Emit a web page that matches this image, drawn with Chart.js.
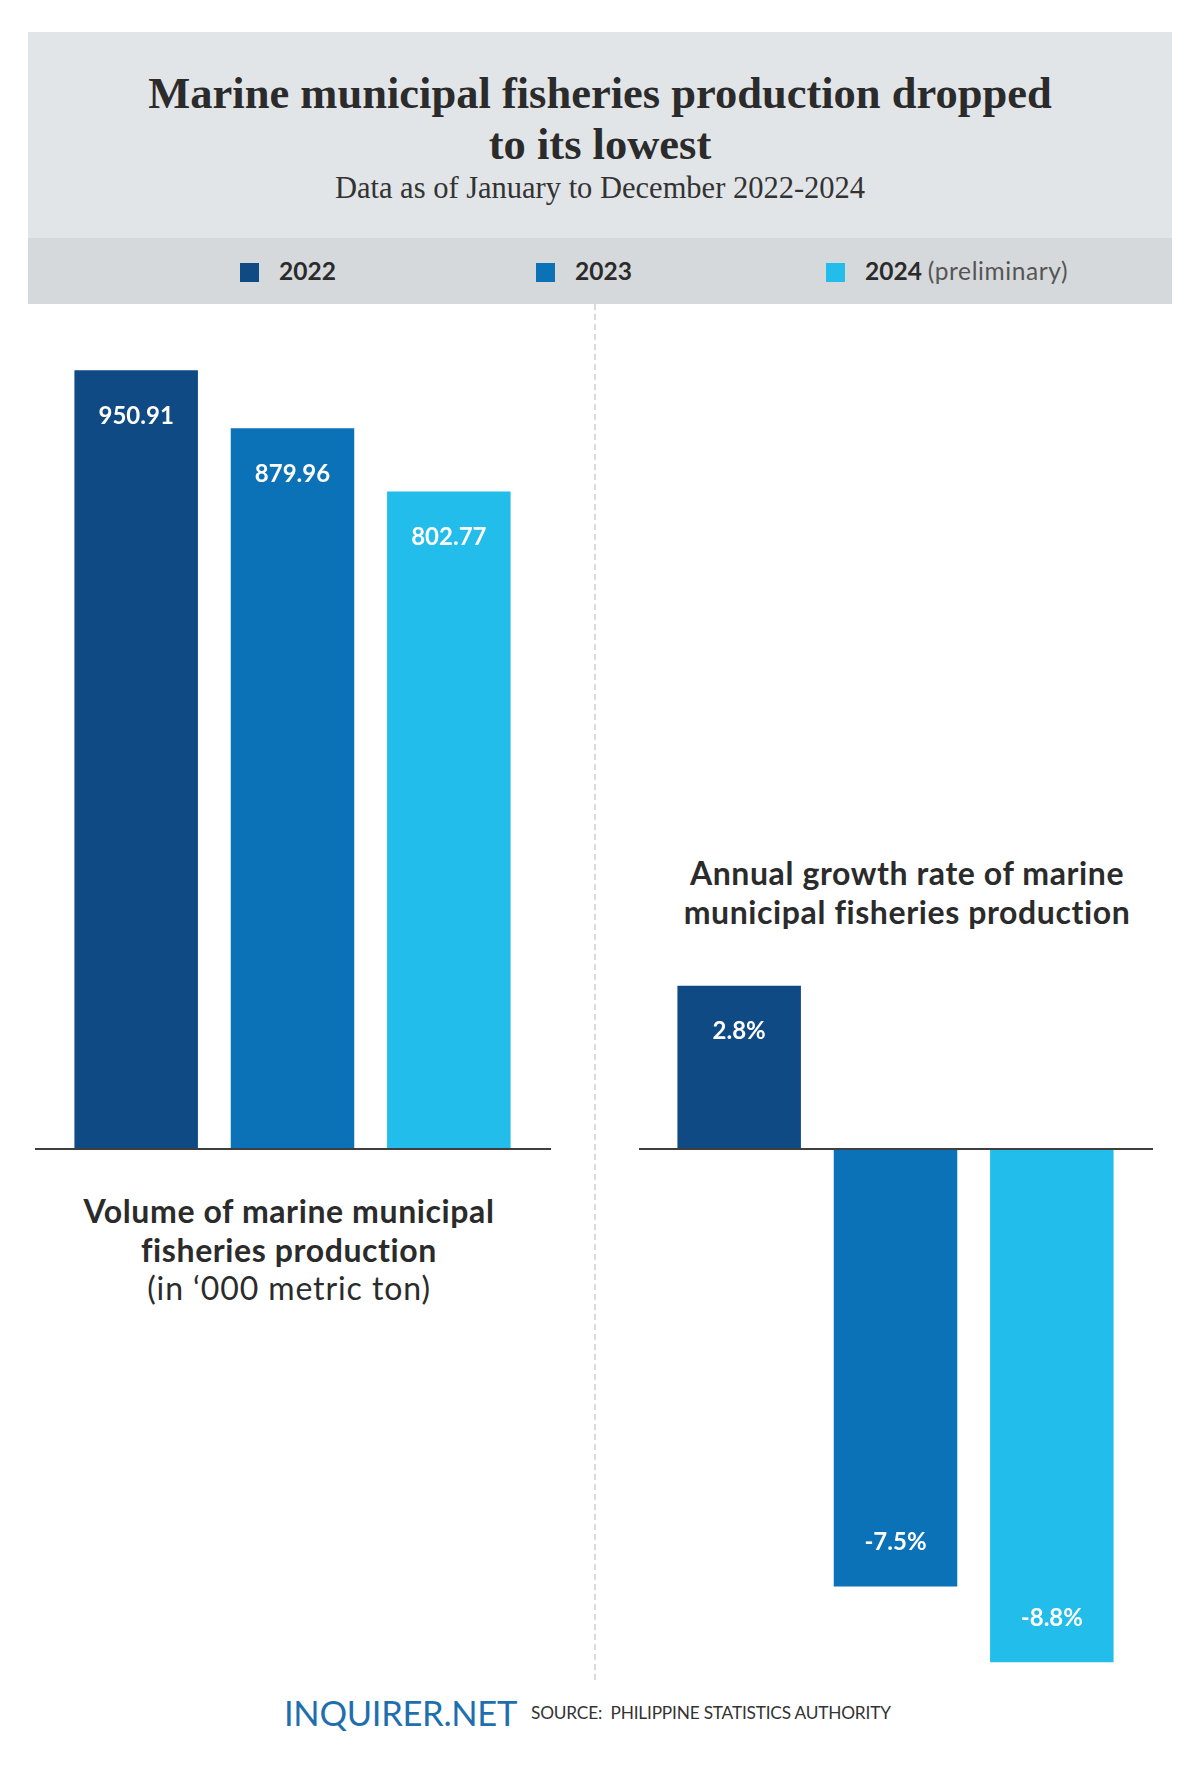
<!DOCTYPE html>
<html>
<head>
<meta charset="utf-8">
<script src="https://cdn.jsdelivr.net/npm/chart.js@4.4.1/dist/chart.umd.min.js"></script>
<style>
  body { margin:0; background:#fff; width:1200px; height:1778px; position:relative; overflow:hidden; font-family:Lato, sans-serif; color:#2b2b2b; }
  .abs { position:absolute; }
  #head { left:28px; top:32px; width:1144px; height:206px; background:#e2e5e8; }
  #legendband { left:28px; top:238px; width:1144px; height:66px; background:#d6d9db; }
  #title { left:0; width:1200px; top:68px; text-align:center; font-family:"Liberation Serif", serif; font-weight:bold; font-size:44.5px; line-height:51px; color:#2b2b2b; }
  #subtitle { left:0; width:1200px; top:171px; text-align:center; font-family:"Liberation Serif", serif; font-size:30.5px; line-height:34px; color:#333; }
  .lg { top:257px; height:28px; line-height:28px; font-size:24.5px; font-weight:bold; color:#2b2b2b; white-space:nowrap; }
  .lg i { display:inline-block; width:19px; height:19px; vertical-align:-2px; margin-right:20px; }
  .lg span { font-weight:normal; color:#555; letter-spacing:0.6px; }
  #divider { left:594px; top:304px; height:1376px; border-left:2px dashed #dadada; }
  .cap { text-align:center; font-size:32px; line-height:38.5px; font-weight:bold; color:#2b2b2b; letter-spacing:0.6px; white-space:nowrap; }
  .cap span { font-weight:normal; letter-spacing:0.9px; }
  canvas { position:absolute; }
  #brand { left:284px; top:1692px; font-size:34.5px; line-height:42px; color:#1f6fae; letter-spacing:-0.3px; }
  #source { left:531px; top:1702px; font-size:17.3px; line-height:22px; color:#333; letter-spacing:-0.2px; }
</style>
</head>
<body>
<div id="head" class="abs"></div>
<div id="legendband" class="abs"></div>
<div id="title" class="abs">Marine municipal fisheries production dropped<br>to its lowest</div>
<div id="subtitle" class="abs">Data as of January to December 2022-2024</div>
<div id="lg0" class="abs lg" style="left:240px"></div>
<div id="lg1" class="abs lg" style="left:536px"></div>
<div id="lg2" class="abs lg" style="left:826px"></div>
<div id="divider" class="abs"></div>

<div class="abs" style="left:35px;top:320px;width:516px;height:840px"><canvas id="volChart" width="516" height="840"></canvas></div>
<div class="abs" style="left:639px;top:964px;width:514px;height:720px"><canvas id="rateChart" width="514" height="720"></canvas></div>

<div class="abs cap" style="left:39px;width:500px;top:1192px">Volume of marine municipal<br>fisheries production<br><span>(in ‘000 metric ton)</span></div>
<div class="abs cap" style="left:657px;width:500px;top:854px">Annual growth rate of marine<br>municipal fisheries production</div>

<div id="brand" class="abs">INQUIRER.NET</div>
<div id="source" class="abs">SOURCE:&nbsp; PHILIPPINE STATISTICS AUTHORITY</div>

<script>
var years = ['2022', '2023', '2024'];
var yearNotes = ['', '', '(preliminary)'];
var volume = [950.91, 879.96, 802.77];
var volumeLabels = ['950.91', '879.96', '802.77'];
var growth = [2.8, -7.5, -8.8];
var growthLabels = ['2.8%', '-7.5%', '-8.8%'];
var colors = ['#0f4a84', '#0b72b7', '#22bdea'];

// legend (html)
years.forEach(function(y, i){
	var el = document.getElementById('lg' + i);
	el.innerHTML = '<i style="background:' + colors[i] + '"></i>' + y + (yearNotes[i] ? ' <span>' + yearNotes[i] + '</span>' : '');
});

// zero line across the whole canvas + value labels inside bars
var barDecor = {
	id: 'barDecor',
	afterDatasetsDraw: function(chart, args, opts){
		var ctx = chart.ctx;
		var y0 = chart.scales.y.getPixelForValue(0);
		ctx.save();
		ctx.strokeStyle = '#3f3f3f';
		ctx.lineWidth = 2;
		ctx.beginPath();
		ctx.moveTo(0, y0);
		ctx.lineTo(chart.width, y0);
		ctx.stroke();

		ctx.fillStyle = '#fff';
		ctx.font = 'bold 24px Lato';
		ctx.textAlign = 'center';
		ctx.textBaseline = 'middle';
		var meta = chart.getDatasetMeta(0);
		var vals = chart.data.datasets[0].data;
		meta.data.forEach(function(bar, i){
			var y = vals[i] >= 0 ? bar.y + 46 : bar.y - 44;
			ctx.fillText(opts.labels[i], bar.x, y);
		});
		ctx.restore();
	}
};

function makeBars(id, values, labels, min, max, pad){
	return new Chart(document.getElementById(id).getContext('2d'), {
		type: 'bar',
		data: {
			labels: years,
			datasets: [{
				data: values,
				backgroundColor: colors,
				borderWidth: 0,
				categoryPercentage: 1,
				barPercentage: 0.79
			}]
		},
		options: {
			responsive: false,
			animation: false,
			layout: { padding: pad },
			plugins: {
				legend: { display: false },
				tooltip: { enabled: false },
				barDecor: { labels: labels }
			},
			scales: {
				x: { display: false },
				y: { display: false, min: min, max: max }
			}
		},
		plugins: [barDecor]
	});
}

makeBars('volChart', volume, volumeLabels, 0, 1000, { left: 23, right: 24, top: 10, bottom: 11 });
makeBars('rateChart', growth, growthLabels, -9, 3, { left: 22, right: 23, top: 10, bottom: 10 });
</script>
</body>
</html>
